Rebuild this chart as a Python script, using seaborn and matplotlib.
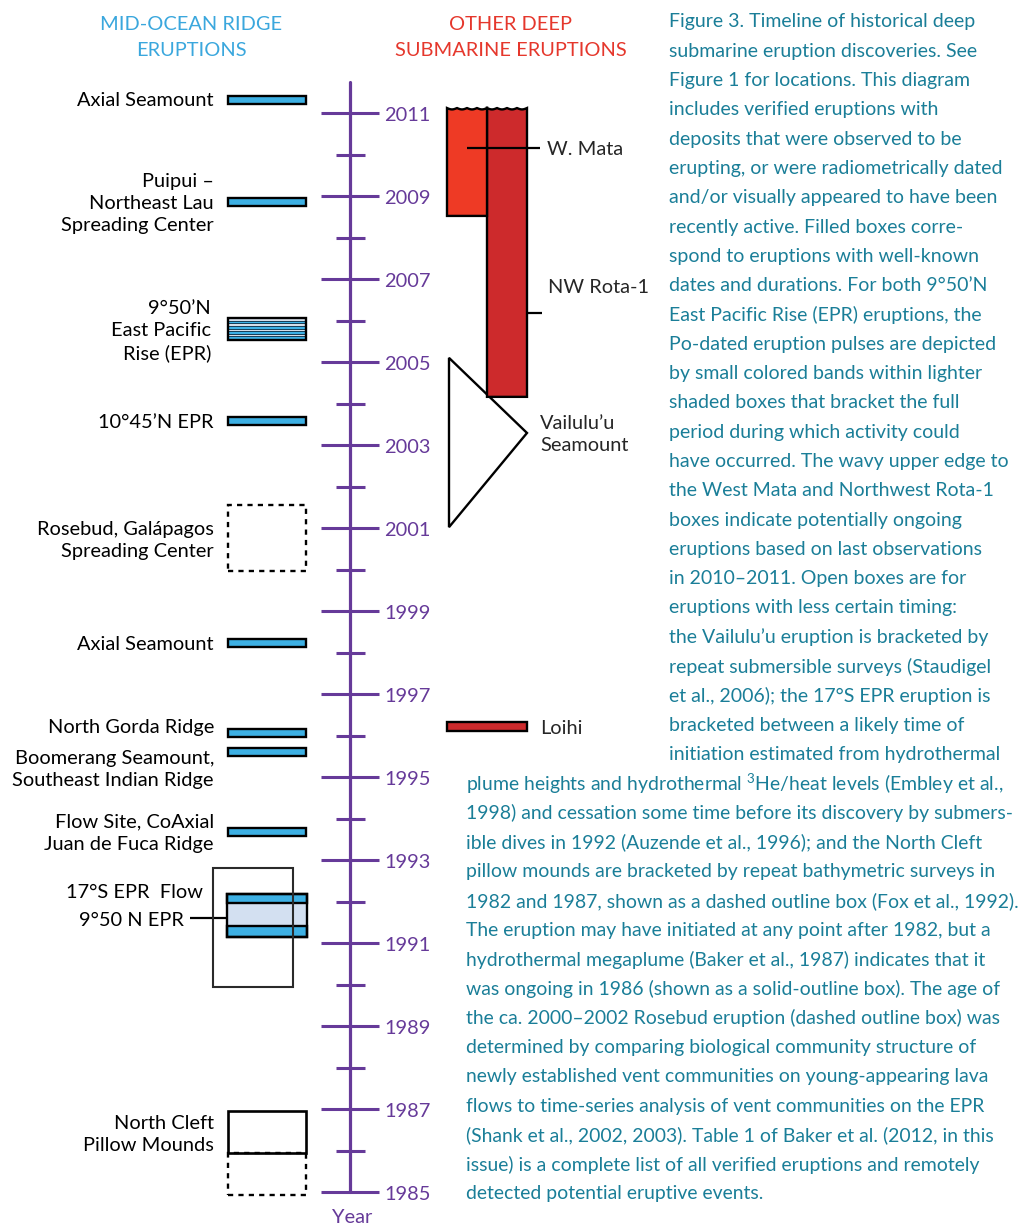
import numpy as np
import pandas as pd
import matplotlib
matplotlib.use("Agg")
import matplotlib.pyplot as plt
from matplotlib.patches import Rectangle, Polygon
import seaborn as sns

# ------------------------------------------------------------------ data
major_years = list(range(1985, 2012, 2))
minor_years = list(range(1986, 2011, 2))
axis_top_year = 2011.75

# mid-ocean ridge eruptions shown as filled bars
bar_names = ["Axial Seamount", "Puipui –\nNortheast Lau\nSpreading Center", "10°45’N EPR",
             "Axial Seamount", "North Gorda Ridge", "Boomerang Seamount,\nSoutheast Indian Ridge",
             "Flow Site, CoAxial\nJuan de Fuca Ridge"]
bar_start = [2011.21, 2008.76, 2003.48, 1998.13, 1995.96, 1995.50, 1993.57]
bar_end = [2011.41, 2008.96, 2003.68, 1998.33, 1996.16, 1995.70, 1993.77]
bar_label_year = [2011.34, 2008.86, 2003.58, 1998.23, 1996.23, 1995.22, 1993.69]

# 9°50'N EPR 2005-06: bracket box + Po-dated pulses
epr06_name = "9°50’N\nEast Pacific\nRise (EPR)"
epr06_range = (2005.52, 2006.06)
epr06_pulse_start = [2005.53, 2005.67, 2005.80, 2005.93]
epr06_pulse_end = [2005.62, 2005.74, 2005.87, 2006.00]

# Rosebud (dashed, uncertain)
rosebud_name = "Rosebud, Galápagos\nSpreading Center"
rosebud_range = (1999.96, 2001.55)

# 17°S EPR (open box)
s17_name = "17°S EPR  Flow"
s17_range = (1989.94, 1992.81)
s17_label_year = 1992.27

# 9°50 N EPR 1991-92
epr91_name = "9°50 N EPR"
epr91_range = (1991.14, 1992.18)
epr91_pulse_start = [1991.96, 1991.14]
epr91_pulse_end = [1992.18, 1991.40]
epr91_label_year = 1991.60

# North Cleft pillow mounds
cleft_name = "North Cleft\nPillow Mounds"
cleft_solid = (1985.94, 1986.95)
cleft_dashed = (1984.93, 1985.94)

# other deep submarine eruptions
mata_name = "W. Mata"
mata_range = (2008.52, 2011.12)
mata_label_year = 2010.16
rota_name = "NW Rota-1"
rota_range = (2004.16, 2011.12)
rota_label_year = 2006.84
rota_tick_year = 2006.18
vail_name = "Vailulu’u\nSeamount"
vail_range = (2001.02, 2005.10)
vail_tip_year = 2003.29
loihi_name = "Loihi"
loihi_range = (1996.11, 1996.32)

caption_right = [
    "Figure 3. Timeline of historical deep",
    "submarine eruption discoveries. See",
    "Figure 1 for locations. This diagram",
    "includes verified eruptions with",
    "deposits that were observed to be",
    "erupting, or were radiometrically dated",
    "and/or visually appeared to have been",
    "recently active. Filled boxes corre-",
    "spond to eruptions with well-known",
    "dates and durations. For both 9°50’N",
    "East Pacific Rise (EPR) eruptions, the",
    "Po-dated eruption pulses are depicted",
    "by small colored bands within lighter",
    "shaded boxes that bracket the full",
    "period during which activity could",
    "have occurred. The wavy upper edge to",
    "the West Mata and Northwest Rota-1",
    "boxes indicate potentially ongoing",
    "eruptions based on last observations",
    "in 2010–2011. Open boxes are for",
    "eruptions with less certain timing:",
    "the Vailulu’u eruption is bracketed by",
    "repeat submersible surveys (Staudigel",
    "et al., 2006); the 17°S EPR eruption is",
    "bracketed between a likely time of",
    "initiation estimated from hydrothermal",
]
caption_full = [
    "plume heights and hydrothermal $^{3}$He/heat levels (Embley et al.,",
    "1998) and cessation some time before its discovery by submers-",
    "ible dives in 1992 (Auzende et al., 1996); and the North Cleft",
    "pillow mounds are bracketed by repeat bathymetric surveys in",
    "1982 and 1987, shown as a dashed outline box (Fox et al., 1992).",
    "The eruption may have initiated at any point after 1982, but a",
    "hydrothermal megaplume (Baker et al., 1987) indicates that it",
    "was ongoing in 1986 (shown as a solid-outline box). The age of",
    "the ca. 2000–2002 Rosebud eruption (dashed outline box) was",
    "determined by comparing biological community structure of",
    "newly established vent communities on young-appearing lava",
    "flows to time-series analysis of vent communities on the EPR",
    "(Shank et al., 2002, 2003). Table 1 of Baker et al. (2012, in this",
    "issue) is a complete list of all verified eruptions and remotely",
    "detected potential eruptive events.",
]

# ------------------------------------------------------------------ style
W, H, DPI = 1020, 1224, 100
sns.set_theme(style="white")
FONT = ["Lato", "DejaVu Sans"]
plt.rcParams["font.family"] = FONT
plt.rcParams["mathtext.fontset"] = "custom"
plt.rcParams["mathtext.rm"] = "Lato"

PURPLE = "#663a99"
BLUE = "#3db0e4"
LIGHT = "#d3e0f1"
STRIPE_LIGHT = "#d6dee8"
RED1 = "#ee3a25"
RED2 = "#cd2a2c"
CAPTION = "#1a7e98"
HEAD_BLUE = "#3aa7dd"
HEAD_RED = "#e5372c"
FS = 14.0
FS_LAB = 14.4
DY = 2  # px downward nudge of text centres

PX_PER_YEAR = 41.5
Y_BASE_PX = 1192
def yr(py):
    return 1985 + (Y_BASE_PX - py) / PX_PER_YEAR

TXT_SHIFT = DY / PX_PER_YEAR

fig = plt.figure(figsize=(W / DPI, H / DPI), dpi=DPI)
ax = fig.add_axes([0, 0, 1, 1])
ax.set_xlim(0, W)
ax.set_ylim(yr(H), yr(0))
ax.axis("off")

def fpx(py):
    return 1 - (py + DY) / H

# ------------------------------------------------------------------ timeline
AX_X = 350
tl = pd.DataFrame({"x": [AX_X, AX_X], "year": [major_years[0], axis_top_year]})
sns.lineplot(data=tl, x="x", y="year", orient="y", color=PURPLE, lw=2.3, ax=ax,
             legend=False, zorder=3)
ax.hlines(major_years, 321, 379, color=PURPLE, lw=2.2, zorder=3)
ax.hlines(minor_years, 336, 365, color=PURPLE, lw=2.2, zorder=3)
for y in major_years:
    ax.text(384, y - TXT_SHIFT, str(y), color=PURPLE, fontsize=FS_LAB, va="center", ha="left")
ax.text(352, yr(1215) - TXT_SHIFT, "Year", color=PURPLE, fontsize=FS_LAB, va="center", ha="center")

# ------------------------------------------------------------------ headers
for txt, py in [("MID-OCEAN RIDGE", 22), ("ERUPTIONS", 48)]:
    fig.text(191 / W, fpx(py), txt, color=HEAD_BLUE, fontsize=FS_LAB, ha="center", va="center")
for txt, py in [("OTHER DEEP", 22), ("SUBMARINE ERUPTIONS", 48)]:
    fig.text(511 / W, fpx(py), txt, color=HEAD_RED, fontsize=FS_LAB, ha="center", va="center")

# ------------------------------------------------------------------ MOR boxes
LX0, LX1 = 228, 306
LABEL_X = 214
EDGE = 1.7

def label_left(x, y, txt):
    ax.text(x, y - TXT_SHIFT, txt, fontsize=FS_LAB, ha="right", va="center",
            multialignment="right", linespacing=1.36, color="black")

ax.bar(x=[LX0] * len(bar_start), height=np.array(bar_end) - np.array(bar_start),
       bottom=bar_start, width=LX1 - LX0, align="edge", color=BLUE, edgecolor="black",
       lw=EDGE, zorder=4)
for n, y in zip(bar_names, bar_label_year):
    label_left(LABEL_X, y, n)

# 9°50'N 2005-06 striped box
ax.add_patch(Rectangle((LX0, epr06_range[0]), LX1 - LX0, epr06_range[1] - epr06_range[0],
                       facecolor=STRIPE_LIGHT, edgecolor="none", zorder=4))
ax.bar(x=[LX0] * len(epr06_pulse_start),
       height=np.array(epr06_pulse_end) - np.array(epr06_pulse_start),
       bottom=epr06_pulse_start, width=LX1 - LX0, align="edge", color=BLUE,
       edgecolor="#163c55", lw=0.7, zorder=5)
ax.add_patch(Rectangle((LX0, epr06_range[0]), LX1 - LX0, epr06_range[1] - epr06_range[0],
                       facecolor="none", edgecolor="black", lw=EDGE, zorder=6))
label_left(211, sum(epr06_range) / 2, epr06_name)

# Rosebud dashed
ax.add_patch(Rectangle((LX0, rosebud_range[0]), LX1 - LX0, rosebud_range[1] - rosebud_range[0],
                       facecolor="none", edgecolor="black", lw=EDGE, ls=(0, (2.2, 2.2)), zorder=4))
label_left(LABEL_X, sum(rosebud_range) / 2, rosebud_name)

# 9°50 N EPR 1991-92
ax.add_patch(Rectangle((227, epr91_range[0]), 80, epr91_range[1] - epr91_range[0],
                       facecolor=LIGHT, edgecolor="none", zorder=4))
ax.bar(x=[227] * 2, height=np.array(epr91_pulse_end) - np.array(epr91_pulse_start),
       bottom=epr91_pulse_start, width=80, align="edge", color=BLUE, edgecolor="black",
       lw=EDGE, zorder=5)
ax.add_patch(Rectangle((227, epr91_range[0]), 80, epr91_range[1] - epr91_range[0],
                       facecolor="none", edgecolor="black", lw=EDGE, zorder=6))
ax.hlines(epr91_label_year, 190, 227, color="black", lw=1.6, zorder=6)
label_left(184, epr91_label_year, epr91_name)

# 17°S EPR open box (on top)
ax.add_patch(Rectangle((213, s17_range[0]), 80, s17_range[1] - s17_range[0],
                       facecolor="none", edgecolor="#2a2a2a", lw=1.5, zorder=7))
label_left(203, s17_label_year, s17_name)

# North Cleft
ax.add_patch(Rectangle((LX0, cleft_solid[0]), LX1 - LX0, cleft_solid[1] - cleft_solid[0],
                       facecolor="none", edgecolor="black", lw=EDGE + 0.2, zorder=5))
ax.add_patch(Rectangle((LX0, cleft_dashed[0]), LX1 - LX0, cleft_dashed[1] - cleft_dashed[0],
                       facecolor="none", edgecolor="black", lw=EDGE, ls=(0, (2.2, 2.2)), zorder=4))
label_left(LABEL_X, sum(cleft_solid) / 2, cleft_name)

# ------------------------------------------------------------------ other deep eruptions
RX0, RXM, RX1 = 447, 487, 527
WAVE_AMP = 1.4 / PX_PER_YEAR

def wavy_box(x0, x1, y0, y1, color):
    xs = np.linspace(x0, x1, 120)
    top = y1 - WAVE_AMP * np.abs(np.sin((xs - x0) / (x1 - x0) * np.pi * 4))
    px = np.concatenate([[x0], xs, [x1, x0]])
    py = np.concatenate([[y0], top, [y0, y0]])
    ax.add_patch(Polygon(np.column_stack([px, py]), closed=True, facecolor=color,
                         edgecolor="black", lw=EDGE, joinstyle="miter", zorder=4))

wavy_box(RXM, RX1, rota_range[0], rota_range[1], RED2)
wavy_box(RX0, RXM, mata_range[0], mata_range[1], RED1)

ax.hlines(mata_label_year, 467, 540, color="black", lw=1.6, zorder=6)
ax.text(547, mata_label_year - TXT_SHIFT, mata_name, fontsize=FS_LAB, ha="left", va="center")
ax.hlines(rota_tick_year, RX1, 542, color="black", lw=1.6, zorder=6)
ax.text(548, rota_label_year - TXT_SHIFT, rota_name, fontsize=FS_LAB, ha="left", va="center")

tri = Polygon([(449, vail_range[1]), (RX1, vail_tip_year), (449, vail_range[0])], closed=True,
              facecolor="white", edgecolor="black", lw=EDGE, zorder=3)
ax.add_patch(tri)
ax.text(540, vail_tip_year - TXT_SHIFT, vail_name, fontsize=FS_LAB, ha="left", va="center",
        linespacing=1.36)

ax.bar(x=[RX0], height=[loihi_range[1] - loihi_range[0]], bottom=[loihi_range[0]],
       width=RX1 - RX0, align="edge", color=RED2, edgecolor="black", lw=EDGE, zorder=4)
ax.text(540, sum(loihi_range) / 2 - TXT_SHIFT, loihi_name, fontsize=FS_LAB, ha="left", va="center")

# ------------------------------------------------------------------ caption
LINE = 29.3
for i, line in enumerate(caption_right):
    fig.text(669 / W, fpx(20 + i * LINE), line, color=CAPTION, fontsize=FS,
             ha="left", va="center")
for i, line in enumerate(caption_full):
    fig.text(466 / W, fpx(20 + (len(caption_right) + i) * LINE), line, color=CAPTION,
             fontsize=FS * 0.995, ha="left", va="center")

fig.savefig("out.png", dpi=DPI)
